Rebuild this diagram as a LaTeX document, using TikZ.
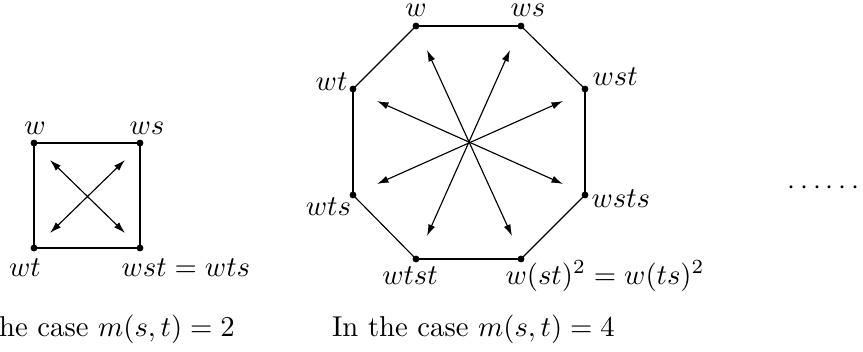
\documentclass[tikz,border=0pt]{standalone}
\usepackage{amsmath,amssymb}
\usetikzlibrary{arrows.meta}

\begin{document}
\begin{tikzpicture}[x=0.3484pt,y=-0.3484pt,
  every node/.style={inner sep=0pt},
  side/.style={line width=1pt},
  flip/.style={thin,{Latex[length=4pt,width=2.5pt]}-{Latex[length=4pt,width=2.5pt]}}]
\useasboundingbox (0,0) rectangle (863,352);
% case m(s,t)=2
\begin{scope}
\coordinate (w) at (34,143);
\coordinate (ws) at (140,143);
\coordinate (wt) at (34,248);
\coordinate (wst) at (140,248);
\draw[side] (w) -- (ws) -- (wst) -- (wt) -- cycle;
\foreach \v in {w,ws,wt,wst}{
  \fill (\v) circle (1.2pt);
}
\coordinate (a1) at (50,160);
\coordinate (a2) at (125,160);
\coordinate (a3) at (50,233);
\coordinate (a4) at (125,233);
\draw[flip] (a1) -- (a4);
\draw[flip] (a2) -- (a3);
\node[anchor=base] (lw) at (35,134) {$w$};
\node[anchor=base] (lws) at (147,134) {$ws$};
\node[anchor=base] (lwt) at (25,276) {$wt$};
\node[anchor=base west] (lwst) at (121,276) {$wst=wts$};
\node[anchor=base] (cap2) at (93.5,336) {In the case $m(s,t)=2$};
\end{scope}
% case m(s,t)=4
\begin{scope}
\coordinate (o1) at (416,26);
\coordinate (o2) at (521,26);
\coordinate (o3) at (585,89);
\coordinate (o4) at (585,195);
\coordinate (o5) at (521,259);
\coordinate (o6) at (416,259);
\coordinate (o7) at (353,195);
\coordinate (o8) at (353,89);
\draw[side] (o1) -- (o2);
\draw[side] (o3) -- (o4);
\draw[side] (o5) -- (o6);
\draw[side] (o7) -- (o8);
\draw[thin] (o2) -- (o3) (o4) -- (o5) (o6) -- (o7) (o8) -- (o1);
\foreach \v in {1,...,8}{
  \fill (o\v) circle (1.2pt);
}
\coordinate (b1) at (427,50);
\coordinate (b2) at (510,50);
\coordinate (b3) at (563,101);
\coordinate (b4) at (563,184);
\coordinate (b5) at (512,236);
\coordinate (b6) at (427,236);
\coordinate (b7) at (377,184);
\coordinate (b8) at (377,101);
\draw[flip] (b1) -- (b5);
\draw[flip] (b2) -- (b6);
\draw[flip] (b3) -- (b7);
\draw[flip] (b4) -- (b8);
\node[anchor=base] (l1) at (416,16) {$w$};
\node[anchor=base] (l2) at (528,16) {$ws$};
\node[anchor=base west] (l3) at (592,85) {$wst$};
\node[anchor=base west] (l4) at (591,207) {$wsts$};
\node[anchor=base west] (l5) at (505,284) {$w(st)^2=w(ts)^2$};
\node[anchor=base] (l6) at (410,284) {$wtst$};
\node[anchor=base] (l7) at (328.5,215) {$wts$};
\node[anchor=base east] (l8) at (348,90) {$wt$};
\node[anchor=base] (cap4) at (473.5,336) {In the case $m(s,t)=4$};
\end{scope}
\node[anchor=west] (more) at (787,188) {$\cdots\cdots$};
\end{tikzpicture}
\end{document}
